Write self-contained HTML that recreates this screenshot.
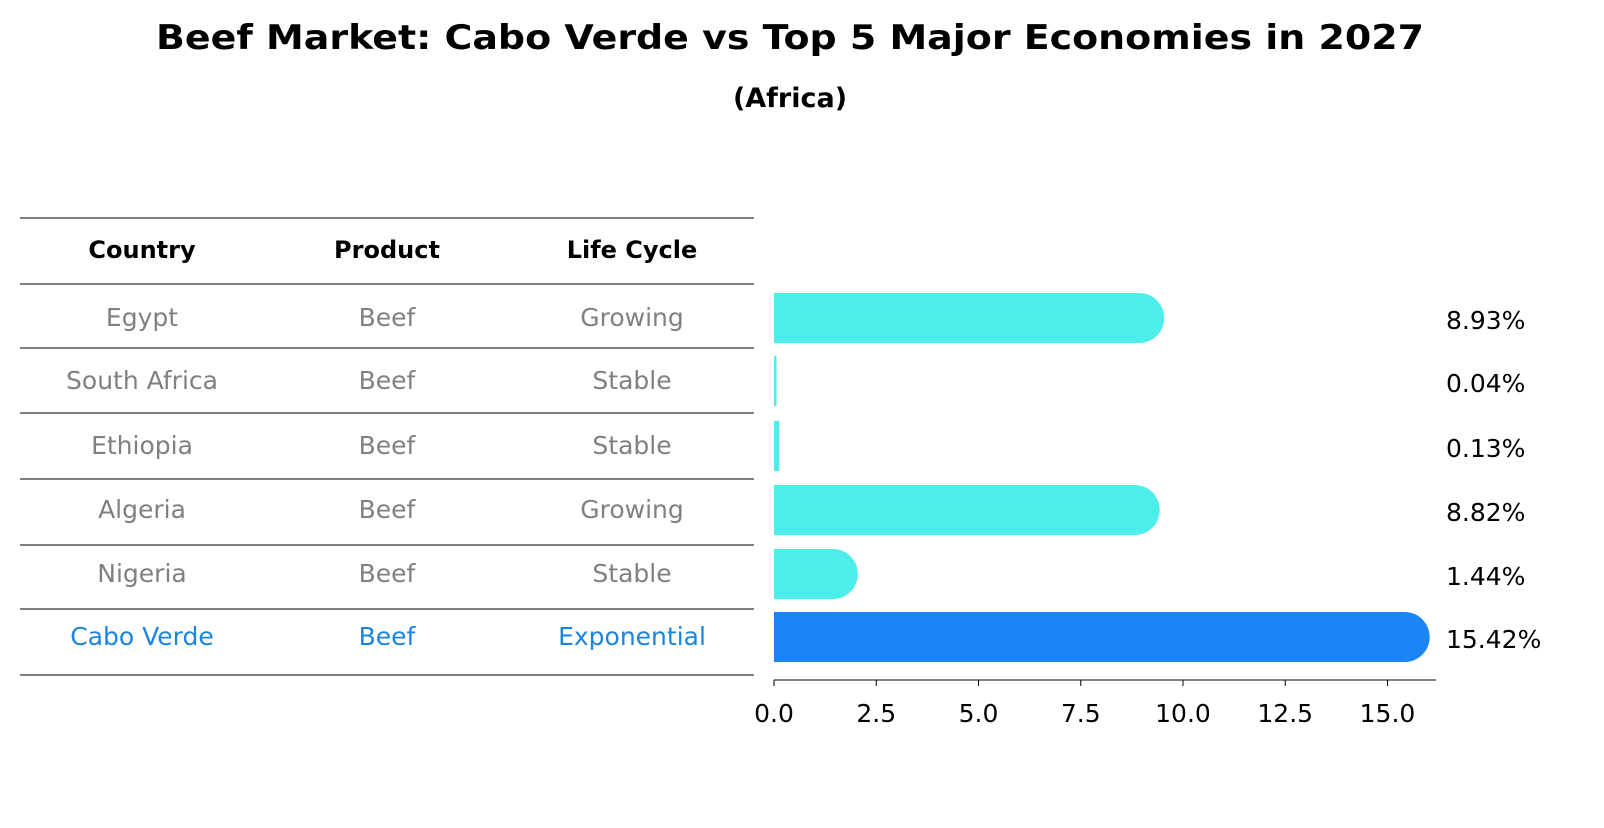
<!DOCTYPE html>
<html><head><meta charset="utf-8"><style>
body{margin:0;background:#fff;font-family:"Liberation Sans","DejaVu Sans",sans-serif}
svg text{font-family:"DejaVu Sans","Liberation Sans",sans-serif}
</style></head><body>
<svg id="c" width="1604" height="823" xmlns="http://www.w3.org/2000/svg">
<text x="790" y="49" font-size="34" font-weight="bold" text-anchor="middle" textLength="1268" lengthAdjust="spacingAndGlyphs">Beef Market: Cabo Verde vs Top 5 Major Economies in 2027</text>
<text x="790" y="107" font-size="27" font-weight="bold" text-anchor="middle">(Africa)</text>
<g id="table"></g>
<g id="bars"></g>
</svg>
<script>
const countries=["Egypt","South Africa","Ethiopia","Algeria","Nigeria","Cabo Verde"];
const products=["Beef","Beef","Beef","Beef","Beef","Beef"];
const cycles=["Growing","Stable","Stable","Growing","Stable","Exponential"];
const values=[8.93,0.04,0.13,8.82,1.44,15.42];
const ticks=[0,2.5,5,7.5,10,12.5,15];
const NS="http://www.w3.org/2000/svg";
const tg=document.getElementById('table'),bg=document.getElementById('bars');
function el(t,a,p){const e=document.createElementNS(NS,t);for(const k in a)e.setAttribute(k,a[k]);p.appendChild(e);return e;}
const x0=774,ppu=40.9;
function xs(v){return x0+v*ppu;}
const lineYs=[218,284,348,413,479,545,609,675];
lineYs.forEach((y,i)=>{const l=el('line',{x1:20,x2:754,y1:y,y2:y,stroke:'#000','stroke-width':1},tg);

});
const colX=[142,387,632];
["Country","Product","Life Cycle"].forEach((h,i)=>{const t=el('text',{x:colX[i],y:258,'font-size':24,'font-weight':'bold','text-anchor':'middle'},tg);t.textContent=h;

});
const rowY=[318,381,446,510,574,637];
countries.forEach((c,i)=>{
 const last=i===countries.length-1;
 const col=last?'#1a85e0':'#808080';
 [c,products[i],cycles[i]].forEach((s,j)=>{const t=el('text',{x:colX[j],y:rowY[i]+8,'font-size':25,'text-anchor':'middle',fill:col},tg);t.textContent=s;
 
 });
 const w=xs(values[i])-x0;
 const fill=last?'#1a85f5':'#4deee9';
 const r=w>30?25:0;
 const g=el('g',{},bg);
 
 
 el('rect',{x:x0,y:rowY[i]-25,width:Math.max(w,2.5),height:50,fill:fill},g);
 if(r)el('circle',{cx:x0+w,cy:rowY[i],r:r,fill:fill},g);
 const t=el('text',{x:1446,y:rowY[i]+11,'font-size':25},bg);t.textContent=values[i].toFixed(2)+'%';
 
 
});
const ax=el('line',{x1:x0,x2:1436,y1:680,y2:680,stroke:'#000','stroke-width':1},bg);


ticks.forEach(v=>{const tk=el('line',{x1:xs(v),x2:xs(v),y1:680,y2:686,stroke:'#000'},bg);
 
 
 const t=el('text',{x:xs(v),y:722,'font-size':25,'text-anchor':'middle'},bg);t.textContent=v.toFixed(1);
 
 });
</script>
</body></html>
